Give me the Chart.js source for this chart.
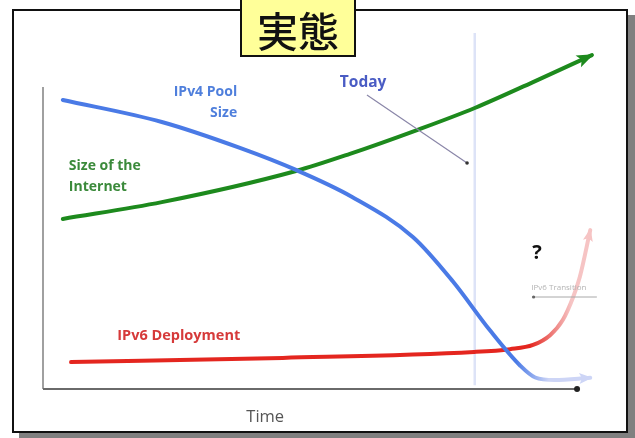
<!DOCTYPE html>
<html>
<head>
<meta charset="utf-8">
<script src="https://cdn.jsdelivr.net/npm/chart.js@4.4.1/dist/chart.umd.min.js"></script>
<style>
  html,body{margin:0;padding:0;background:#fff;}
  body{width:635px;height:438px;position:relative;overflow:hidden;}
  .frame{position:absolute;left:12px;top:9px;width:616px;height:424px;box-sizing:border-box;
    border:2px solid #111;background:#fff;box-shadow:7px 6px 0 #808080;}
  #c{position:absolute;left:0;top:0;z-index:1;}
  .title{position:absolute;left:240px;top:-3px;width:116px;height:60px;box-sizing:border-box;
    border:2px solid #111;background:#ffff99;z-index:2;display:flex;align-items:center;justify-content:center;
    font-family:"Noto Sans CJK JP",sans-serif;font-weight:500;font-size:41px;color:#111;padding-top:3px;}
</style>
</head>
<body>
<div class="frame"></div>
<div class="title">実態</div>
<canvas id="c" width="635" height="438"></canvas>
<script>
// time (0-100) vs relative size (0-100)
const ipv4T = [3.6, 21.6, 35.8, 46, 56.2, 67.3, 74.5, 81.3, 86.7, 89.5, 93, 99.5];
const ipv4V = [82.3, 76, 68.6, 62.3, 54.6, 43.1, 30.5, 16.4, 6.5, 3, 2.3, 2.9];

const netT = [3.6, 21.6, 46, 55.8, 68, 78.5, 89.1, 99.8];
const netV = [48.3, 53.1, 62, 66.9, 73.7, 80, 87.4, 95.1];

const v6T = [5.1, 43.6, 78.4, 84.9, 89.1, 92.2, 94.5, 96.4, 97.6, 99.5];
const v6V = [7.4, 8.6, 10.3, 11.1, 12.3, 15.1, 19.4, 26, 31.7, 45.1];

const todayT = 78.5;
const axisTopV = 86, axisEndT = 97.1;

const pts = (ts, vs) => ts.map((t,i)=>({x:t, y:vs[i]}));

function fade(solid, light, from, to){
  return (ctx)=>{
    const ch = ctx.chart;
    if(!ch.chartArea) return solid;
    const xs = ch.scales.x;
    const g = ch.ctx.createLinearGradient(xs.getPixelForValue(from),0,xs.getPixelForValue(to),0);
    g.addColorStop(0, solid); g.addColorStop(1, light);
    return g;
  };
}

const labels = [
  {text:'IPv4 Pool', t:35.3, v:84.6, align:'right', color:'#4f7fdc', font:'bold 14px "Open Sans"'},
  {text:'Size', t:35.3, v:78.6, align:'right', color:'#4f7fdc', font:'bold 14px "Open Sans"'},
  {text:'Size of the', t:4.7, v:63.4, align:'left', color:'#3b8a3b', font:'bold 14px "Open Sans"'},
  {text:'Internet', t:4.7, v:57.4, align:'left', color:'#3b8a3b', font:'bold 14px "Open Sans"'},
  {text:'IPv6 Deployment', t:13.5, v:14.9, align:'left', color:'#d63a3a', font:'bold 14.5px "Open Sans"'},
  {text:'Today', t:58.2, v:87.4, align:'center', color:'#4a5cc4', font:'bold 15.5px "Open Sans"'},
  {text:'?', t:89.8, v:38.6, align:'center', color:'#111', font:'bold 20px "Open Sans"'},
  {text:'IPv6 Transition', t:93.8, v:28.6, align:'center', color:'#b4b4b4', font:'8px "Open Sans"'},
  {text:'Time', t:40.4, v:-8.3, align:'center', color:'#555', font:'16.5px "Open Sans"'}
];

function arrowHead(c, x0, y0, x1, y1, len, wid, color){
  const a = Math.atan2(y1-y0, x1-x0);
  c.save(); c.translate(x1,y1); c.rotate(a);
  c.fillStyle = color; c.beginPath();
  c.moveTo(2,0); c.lineTo(-len, -wid/2); c.lineTo(-len*0.75, 0); c.lineTo(-len, wid/2); c.closePath();
  c.fill(); c.restore();
}

const decor = {
  id:'decor',
  beforeDatasetsDraw(chart){
    const c = chart.ctx, xs = chart.scales.x, ys = chart.scales.y;
    c.save();
    // today marker
    c.strokeStyle = '#dde3f7'; c.lineWidth = 2.5;
    c.beginPath(); c.moveTo(xs.getPixelForValue(todayT), ys.getPixelForValue(101.4));
    c.lineTo(xs.getPixelForValue(todayT), ys.getPixelForValue(0.8)); c.stroke();
    // axes
    c.strokeStyle = '#a0a0a0'; c.lineWidth = 2;
    c.beginPath(); c.moveTo(xs.getPixelForValue(0), ys.getPixelForValue(axisTopV));
    c.lineTo(xs.getPixelForValue(0), ys.getPixelForValue(-0.3)); c.stroke();
    c.strokeStyle = '#6a6a6a';
    c.beginPath(); c.moveTo(xs.getPixelForValue(0), ys.getPixelForValue(-0.3));
    c.lineTo(xs.getPixelForValue(axisEndT), ys.getPixelForValue(-0.3)); c.stroke();
    c.fillStyle = '#222';
    c.beginPath(); c.arc(xs.getPixelForValue(axisEndT), ys.getPixelForValue(-0.3), 3, 0, Math.PI*2); c.fill();
    c.restore();
  },
  afterDatasetsDraw(chart){
    const c = chart.ctx, xs = chart.scales.x, ys = chart.scales.y;
    const px = t=>xs.getPixelForValue(t), py = v=>ys.getPixelForValue(v);
    c.save();
    // arrowheads at series ends
    const n = netT.length-1, b = ipv4T.length-1, r = v6T.length-1;
    arrowHead(c, px(netT[n-1]), py(netV[n-1]), px(netT[n]), py(netV[n]), 15, 13, '#1d8a1d');
    arrowHead(c, px(ipv4T[b-1]), py(ipv4V[b-1]), px(ipv4T[b]), py(ipv4V[b]), 11, 11, '#cdd5f6');
    arrowHead(c, px(v6T[r-1]), py(v6V[r-1]), px(v6T[r]), py(v6V[r]), 11, 10, '#f6c4c4');
    // today pointer
    c.strokeStyle = '#8a86a8'; c.lineWidth = 1.2;
    c.beginPath(); c.moveTo(px(58.9), py(83.7)); c.lineTo(px(77.1), py(64.3)); c.stroke();
    c.fillStyle = '#333'; c.beginPath(); c.arc(px(77.1), py(64.3), 1.8, 0, Math.PI*2); c.fill();
    // transition pointer
    c.strokeStyle = '#a8a8a8'; c.lineWidth = 1;
    c.beginPath(); c.moveTo(px(100.7), py(26)); c.lineTo(px(88.9), py(26)); c.stroke();
    c.fillStyle = '#666'; c.beginPath(); c.arc(px(89.2), py(26), 1.6, 0, Math.PI*2); c.fill();
    // text
    c.textBaseline = 'middle';
    labels.forEach(l=>{
      c.font = l.font; c.fillStyle = l.color; c.textAlign = l.align;
      c.fillText(l.text, px(l.t), py(l.v));
    });
    c.restore();
  }
};

new Chart(document.getElementById('c'), {
  type:'line',
  data:{
    datasets:[
      { label:'IPv4 Pool Size', data:pts(ipv4T, ipv4V), borderWidth:4,
        borderColor:fade('#4a7ae6', '#cdd5f6', 86, 92) },
      { label:'Size of the Internet', data:pts(netT, netV), borderWidth:4, borderColor:'#1d8a1d' },
      { label:'IPv6 Deployment', data:pts(v6T, v6V), borderWidth:4,
        borderColor:fade('#e4261f', '#f6c4c4', 88.5, 96) }
    ]
  },
  options:{
    responsive:false, animation:false,
    layout:{ padding:{ left:43, right:42, top:38, bottom:50 } },
    elements:{ point:{ radius:0 }, line:{ cubicInterpolationMode:'monotone', borderCapStyle:'round' } },
    scales:{
      x:{ type:'linear', min:0, max:100, display:false },
      y:{ min:0, max:100, display:false }
    },
    plugins:{ legend:{ display:false }, tooltip:{ enabled:false } },
    clip:false
  },
  plugins:[decor]
});
</script>
</body>
</html>
